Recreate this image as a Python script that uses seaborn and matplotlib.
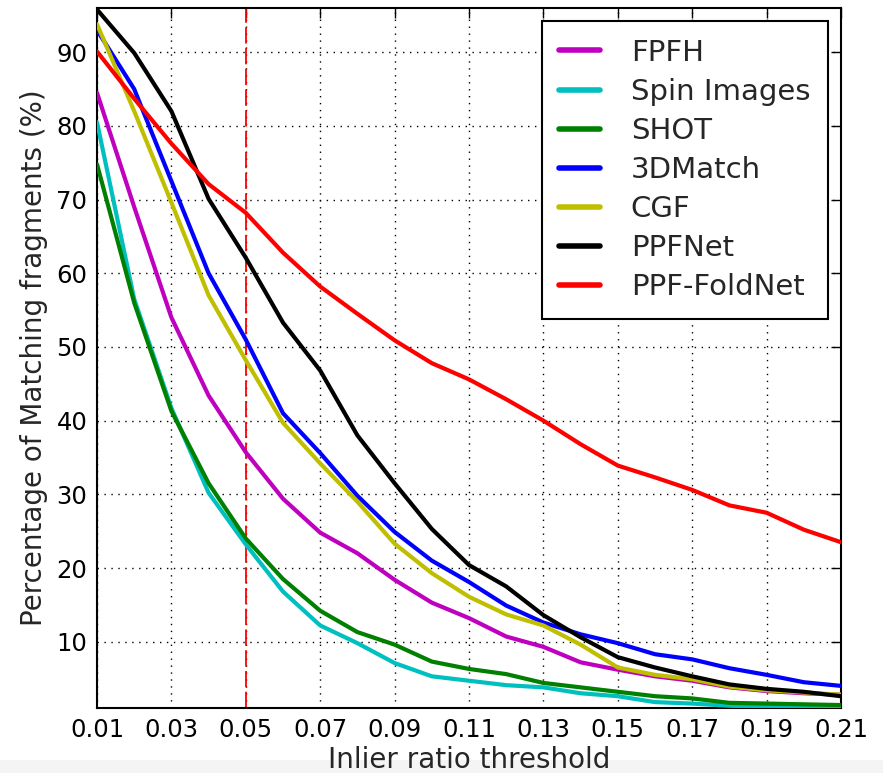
import numpy as np
import pandas as pd
import matplotlib
matplotlib.use("Agg")
import matplotlib.pyplot as plt
import seaborn as sns
from matplotlib.patches import Rectangle

thresholds = [0.01, 0.02, 0.03, 0.04, 0.05, 0.06, 0.07, 0.08, 0.09, 0.10, 0.11,
              0.12, 0.13, 0.14, 0.15, 0.16, 0.17, 0.18, 0.19, 0.20, 0.21]
methods = ["FPFH", "Spin Images", "SHOT", "3DMatch", "CGF", "PPFNet", "PPF-FoldNet"]
fpfh = [84.5, 69.0, 54.0, 43.4, 35.7, 29.4, 24.8, 22.0, 18.4, 15.3, 13.2, 10.7, 9.3, 7.2, 6.2, 5.3, 4.7, 3.8, 3.3, 3.0, 2.8]
spin_images = [80.5, 56.5, 41.7, 30.2, 23.2, 16.8, 12.2, 9.8, 7.1, 5.3, 4.7, 4.1, 3.8, 3.0, 2.6, 1.8, 1.6, 1.3, 1.2, 1.1, 1.0]
shot = [74.8, 56.0, 41.3, 31.5, 24.0, 18.5, 14.2, 11.3, 9.6, 7.3, 6.3, 5.6, 4.4, 3.8, 3.2, 2.6, 2.3, 1.7, 1.6, 1.5, 1.4]
match3d = [93.0, 85.0, 72.5, 60.0, 51.0, 41.0, 35.6, 29.8, 24.9, 21.0, 18.1, 14.9, 12.6, 11.0, 9.8, 8.3, 7.6, 6.4, 5.5, 4.5, 4.0]
cgf = [93.8, 82.0, 69.6, 57.0, 48.2, 39.7, 34.2, 29.0, 23.3, 19.3, 16.1, 13.7, 12.2, 9.6, 6.5, 5.5, 4.9, 3.9, 3.4, 3.1, 2.8]
ppfnet = [95.8, 89.9, 82.0, 70.1, 62.1, 53.3, 46.8, 38.0, 31.5, 25.3, 20.4, 17.5, 13.6, 10.6, 7.9, 6.5, 5.3, 4.2, 3.6, 3.2, 2.6]
ppf_foldnet = [90.1, 83.7, 77.6, 72.1, 68.2, 62.8, 58.2, 54.5, 50.9, 47.8, 45.6, 42.9, 40.0, 36.8, 33.9, 32.3, 30.6, 28.5, 27.5, 25.2, 23.5]
x_ticks = [0.01, 0.03, 0.05, 0.07, 0.09, 0.11, 0.13, 0.15, 0.17, 0.19, 0.21]
x_tick_labels = ["0.01", "0.03", "0.05", "0.07", "0.09", "0.11", "0.13", "0.15", "0.17", "0.19", "0.21"]
y_ticks = [10, 20, 30, 40, 50, 60, 70, 80, 90]
threshold_marker = 0.05

series = [fpfh, spin_images, shot, match3d, cgf, ppfnet, ppf_foldnet]
colors = {"FPFH": (0.75, 0, 0.75), "Spin Images": (0, 0.75, 0.75), "SHOT": (0, 0.5, 0),
          "3DMatch": (0, 0, 1), "CGF": (0.75, 0.75, 0), "PPFNet": (0, 0, 0),
          "PPF-FoldNet": (1, 0, 0)}

df = pd.DataFrame({
    "threshold": thresholds * len(methods),
    "value": sum(series, []),
    "method": [m for m in methods for _ in thresholds],
})

sns.set_style("white")
plt.rcParams["font.family"] = ["DejaVu Sans"]

fig = plt.figure(figsize=(8.83, 7.73), dpi=100)
fig.patches.append(Rectangle((0, 0), 1, 13 / 773, transform=fig.transFigure,
                             facecolor="#f4f4f4", edgecolor="none", zorder=-10))
ax = fig.add_axes([97 / 883, 1 - 708 / 773, (841 - 97) / 883, (708 - 8) / 773])

sns.lineplot(data=df, x="threshold", y="value", hue="method", hue_order=methods,
             palette=colors, linewidth=3, ax=ax, legend=False, zorder=3)

ax.axvline(threshold_marker, color="red", linestyle=(0, (9, 2.5)), linewidth=1.3, zorder=2)

ax.set_xlim(0.01, 0.21)
ax.set_ylim(1, 96)
ax.set_xticks(x_ticks)
ax.set_xticklabels(x_tick_labels)
ax.set_yticks(y_ticks)
ax.grid(True, color="black", linestyle=(0, (1, 4)), linewidth=1.0)
ax.tick_params(direction="in", length=7, width=1, top=True, right=True,
               labelsize=17.5, pad=7, colors="black")
for s in ax.spines.values():
    s.set_visible(True)
    s.set_color("black")
    s.set_linewidth(1.5)

ax.set_xlabel("Inlier ratio threshold", fontsize=20, labelpad=3)
ax.set_ylabel("Percentage of Matching fragments (%)", fontsize=20, labelpad=6)

handles = [plt.Line2D([], [], color=colors[m], linewidth=4) for m in methods]
leg = ax.legend(handles, methods, loc="upper right", fontsize=21, frameon=True,
                fancybox=False, shadow=False, framealpha=1, edgecolor="black",
                handlelength=1.4, handletextpad=1.05, labelspacing=0.38,
                borderpad=0.6, borderaxespad=0.45)
leg.get_frame().set_linewidth(1.5)

fig.savefig("out.png", dpi=100)
